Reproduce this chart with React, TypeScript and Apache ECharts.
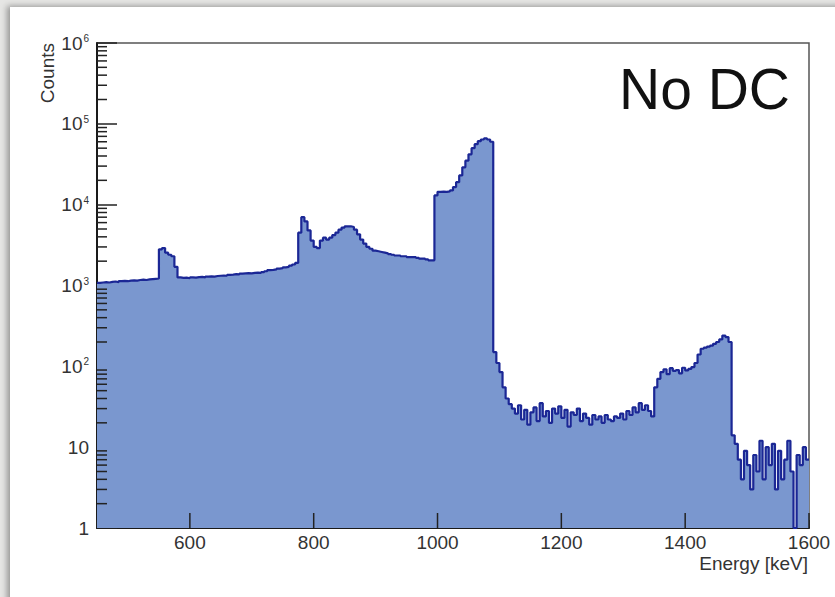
import React, { useEffect, useRef } from "react";
import * as echarts from "echarts";

// Histogram binning (keV)
const BIN_START = 450;
const BIN_WIDTH = 5;
const X_MIN = 450;
const X_MAX = 1600;

// Counts per 5 keV bin, in order from 450 keV
const countsLowContinuum = [1080, 1090, 1100, 1090, 1110, 1120, 1100, 1130, 1140, 1130, 1150, 1160, 1150, 1170, 1180, 1170, 1190, 1200, 1210, 1220];
const countsPeak550 = [2800, 2900, 2550, 2400, 2300, 1700, 1260];
const countsMidContinuum = [1240, 1250, 1230, 1260, 1250, 1270, 1280, 1260, 1290, 1300, 1290, 1310, 1320, 1330, 1320, 1350, 1360, 1380, 1370, 1400, 1410, 1420, 1410, 1430, 1440, 1430, 1460, 1500, 1550, 1560, 1580, 1620, 1640, 1680, 1700, 1760, 1820, 1900];
const countsPeak780Hump = [4500, 7000, 6200, 4800, 3600, 3000, 2900, 3600, 3900, 3700, 3900, 4200, 4500, 4900, 5200, 5400, 5400, 5300, 4900, 4300, 3700, 3300, 3000, 2850, 2700, 2650, 2600, 2550, 2500, 2450, 2400, 2350, 2350, 2300, 2300, 2250, 2250, 2250, 2200, 2150, 2150, 2100, 2050, 2050];
const countsMainPeak = [13000, 14400, 14500, 14400, 14600, 15000, 16500, 19000, 23000, 29000, 35000, 42000, 50000, 56000, 61000, 64000, 66000, 64000, 60000];
const countsEdgeFall = [150, 110, 85, 55, 40, 34];
const countsFlatNoise = [30, 26, 33, 22, 29, 19, 27, 31, 21, 35, 24, 28, 20, 30, 26, 32, 23, 29, 18, 27, 25, 30, 21, 26, 23, 19, 25, 22, 24, 20, 25, 22, 21, 24, 23, 26, 22, 28, 25, 31, 27, 35, 29, 33, 28, 24];
const countsPeak1460 = [55, 70, 85, 92, 80, 95, 88, 90, 82, 96, 89, 93, 98, 110, 140, 165, 170, 175, 180, 190, 200, 215, 240, 230, 200];
const countsTail = [14, 11, 7, 4, 9, 6, 3, 8, 5, 12, 4, 10, 6, 11, 3, 9, 4, 7, 12, 5, 1, 8, 6, 10, 7];

const counts = [
  ...countsLowContinuum,
  ...countsPeak550,
  ...countsMidContinuum,
  ...countsPeak780Hump,
  ...countsMainPeak,
  ...countsEdgeFall,
  ...countsFlatNoise,
  ...countsPeak1460,
  ...countsTail,
];

const xMajorTicks = [600, 800, 1000, 1200, 1400, 1600];
const yMinorMultipliers = [2, 3, 4, 5, 6, 7, 8, 9];
const yDecadesBelowTop = [1, 10, 100, 1000, 10000, 100000];

const FONT = '"Liberation Sans", Arial, Helvetica, sans-serif';

export default function App() {
  const ref = useRef<HTMLDivElement>(null);

  useEffect(() => {
    if (!ref.current) return;
    const chart = echarts.init(ref.current, null, { renderer: "svg" });

    const lineData: number[][] = counts.map((c, i) => [BIN_START + i * BIN_WIDTH, c]);
    lineData.push([BIN_START + counts.length * BIN_WIDTH, counts[counts.length - 1]]);

    const tickData: number[][] = [];
    yDecadesBelowTop.forEach((d) =>
      yMinorMultipliers.forEach((m) => tickData.push([X_MIN, m * d, 10, 0]))
    );
    xMajorTicks.forEach((v) => tickData.push([v, 1, 15, 1]));

    chart.setOption({
      animation: false,
      backgroundColor: "transparent",
      grid: {
        left: 97,
        top: 43,
        right: 26,
        bottom: 69,
        show: true,
        borderColor: "#555",
        borderWidth: 1.5,
        backgroundColor: "transparent",
      },
      xAxis: {
        type: "value",
        min: X_MIN,
        max: X_MAX,
        interval: 50,
        axisLine: { show: true, onZero: false, lineStyle: { color: "#1a1a1a", width: 2 } },
        axisTick: { show: true, inside: true, length: 8, lineStyle: { color: "#222", width: 1.5 } },
        axisLabel: {
          margin: 5,
          color: "#333",
          fontSize: 19,
          fontFamily: FONT,
          formatter: (v: number) => (v % 200 === 0 ? String(v) : ""),
        },
        splitLine: { show: false },
      },
      yAxis: {
        type: "log",
        logBase: 10,
        min: 1,
        max: 1000000,
        axisLine: { show: true, lineStyle: { color: "#1a1a1a", width: 2 } },
        axisTick: { show: true, inside: true, length: 20, lineStyle: { color: "#222", width: 1.5 } },
        axisLabel: {
          margin: 8,
          color: "#333",
          fontSize: 19,
          fontFamily: FONT,
          formatter: (v: number) => {
            if (v < 100) return String(Math.round(v));
            return `{b|10}{s|${Math.round(Math.log10(v))}}`;
          },
          rich: {
            b: { fontSize: 19, fontFamily: FONT, color: "#333", verticalAlign: "bottom" },
            s: { fontSize: 10, fontFamily: FONT, color: "#333", verticalAlign: "top", padding: [0, 0, 7, 1] },
          },
        },
        splitLine: { show: false },
      },
      graphic: [
        {
          type: "text",
          x: 790,
          y: 89,
          style: {
            text: "No DC",
            fontSize: 57,
            fontFamily: FONT,
            fill: "#111",
            align: "right",
            verticalAlign: "middle",
            textAlign: "right",
            textVerticalAlign: "middle",
          },
          z: 10,
        },
        {
          type: "text",
          x: 47,
          y: 43,
          rotation: Math.PI / 2,
          style: {
            text: "Counts",
            fontSize: 19,
            fontFamily: FONT,
            fill: "#333",
            align: "right",
            verticalAlign: "middle",
            textAlign: "right",
            textVerticalAlign: "middle",
          },
        },
        {
          type: "text",
          x: 808,
          y: 563,
          style: {
            text: "Energy [keV]",
            fontSize: 19,
            fontFamily: FONT,
            fill: "#333",
            align: "right",
            verticalAlign: "middle",
            textAlign: "right",
            textVerticalAlign: "middle",
          },
        },
      ],
      series: [
        {
          type: "line",
          data: lineData,
          step: "end",
          symbol: "none",
          lineStyle: { color: "#1b2795", width: 2.2 },
          areaStyle: { color: "#7a97cf", opacity: 1, origin: "start" },
          z: 2,
        },
        {
          type: "custom",
          coordinateSystem: "cartesian2d",
          data: tickData,
          encode: { x: 0, y: 1 },
          clip: false,
          silent: true,
          z: 5,
          renderItem: (_params: any, api: any) => {
            const p = api.coord([api.value(0), api.value(1)]);
            const len = api.value(2);
            const vertical = api.value(3) === 1;
            return {
              type: "line",
              shape: vertical
                ? { x1: p[0], y1: p[1], x2: p[0], y2: p[1] - len }
                : { x1: p[0], y1: p[1], x2: p[0] + len, y2: p[1] },
              style: { stroke: "#222", lineWidth: 1.5 },
            };
          },
        },
      ],
    });

    return () => chart.dispose();
  }, []);

  return (
    <div
      style={{
        position: "fixed",
        left: 0,
        top: 0,
        width: 835,
        height: 597,
        background: "#e6e6e4",
        overflow: "hidden",
      }}
    >
      <div
        style={{
          position: "absolute",
          left: 10,
          top: 7,
          width: 835,
          height: 600,
          background: "#ffffff",
          boxShadow: "-3px -1px 6px rgba(0,0,0,0.35)",
        }}
      />
      <div ref={ref} style={{ position: "absolute", left: 0, top: 0, width: 835, height: 597 }} />
    </div>
  );
}
